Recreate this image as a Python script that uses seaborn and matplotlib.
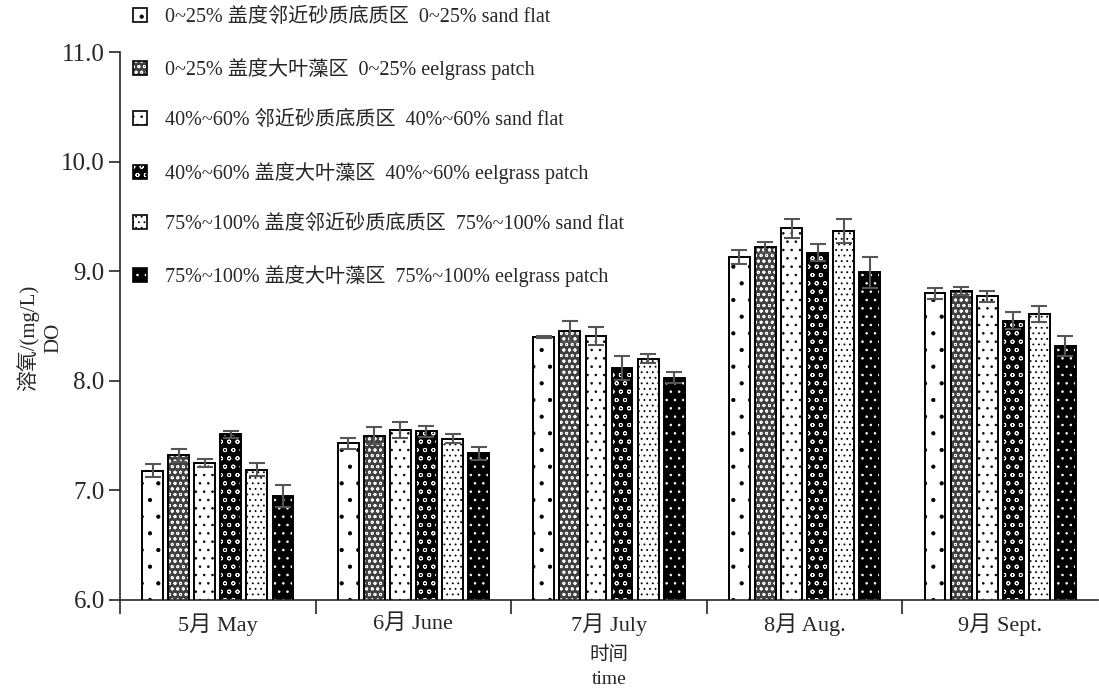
import matplotlib
matplotlib.use("Agg")
import matplotlib.pyplot as plt
from matplotlib.patches import Patch, Rectangle
from matplotlib.legend_handler import HandlerTuple
import numpy as np
import pandas as pd
import seaborn as sns

# Monthly dissolved oxygen (mg/L) by eelgrass cover zone: means and standard errors
months = ["5月 May", "6月 June", "7月 July", "8月 Aug.", "9月 Sept."]
groups = [
    "0~25% 盖度邻近砂质底质区  0~25% sand flat",
    "0~25% 盖度大叶藻区  0~25% eelgrass patch",
    "40%~60% 邻近砂质底质区  40%~60% sand flat",
    "40%~60% 盖度大叶藻区  40%~60% eelgrass patch",
    "75%~100% 盖度邻近砂质底质区  75%~100% sand flat",
    "75%~100% 盖度大叶藻区  75%~100% eelgrass patch",
]
sand_0_25 = [7.18, 7.43, 8.40, 9.13, 8.80]
grass_0_25 = [7.32, 7.50, 8.45, 9.22, 8.82]
sand_40_60 = [7.25, 7.55, 8.41, 9.39, 8.77]
grass_40_60 = [7.51, 7.54, 8.12, 9.17, 8.55]
sand_75_100 = [7.19, 7.47, 8.20, 9.37, 8.61]
grass_75_100 = [6.95, 7.34, 8.03, 8.99, 8.32]

err_sand_0_25 = [0.06, 0.05, 0.01, 0.06, 0.05]
err_grass_0_25 = [0.06, 0.08, 0.10, 0.05, 0.04]
err_sand_40_60 = [0.04, 0.07, 0.08, 0.09, 0.05]
err_grass_40_60 = [0.03, 0.05, 0.11, 0.08, 0.08]
err_sand_75_100 = [0.06, 0.04, 0.04, 0.11, 0.07]
err_grass_75_100 = [0.10, 0.06, 0.05, 0.14, 0.09]

means = [sand_0_25, grass_0_25, sand_40_60, grass_40_60, sand_75_100, grass_75_100]
errors = [err_sand_0_25, err_grass_0_25, err_sand_40_60, err_grass_40_60,
          err_sand_75_100, err_grass_75_100]

df = pd.DataFrame({
    "month": np.tile(months, len(groups)),
    "group": np.repeat(groups, len(months)),
    "DO": np.concatenate(means),
})

sns.set_style("ticks")
plt.rcParams["font.family"] = ["Liberation Serif", "Noto Sans CJK SC", "DejaVu Sans"]
plt.rcParams["hatch.linewidth"] = 0.6
plt.rcParams["axes.unicode_minus"] = False

# fill colour, hatch colour and hatch pattern for each zone
styles = [
    ("white", "black", "."),
    ("#404040", "white", "ooo"),
    ("white", "black", ".."),
    ("black", "white", "oo"),
    ("white", "black", "..."),
    ("black", "white", ".."),
]

fig = plt.figure(figsize=(10.99, 6.89), dpi=100)
ax = fig.add_axes([0.1092, 0.1292, 0.8899, 0.7953])

sns.barplot(data=df, x="month", y="DO", hue="group", order=months, hue_order=groups,
            palette=["white"] * len(groups), errorbar=None, width=0.8, gap=0.2,
            legend=False, ax=ax)

bar_containers = list(ax.containers)
for i, cont in enumerate(bar_containers):
    fc, hc, hatch = styles[i]
    xs = []
    for bar in cont:
        bar.set_facecolor(fc)
        bar.set_edgecolor(hc)
        bar.set_hatch(hatch)
        bar.set_linewidth(0)
        outline = Rectangle(bar.get_xy(), bar.get_width(), bar.get_height(),
                            fill=False, edgecolor="black", linewidth=1.4, zorder=3)
        ax.add_patch(outline)
        xs.append(bar.get_x() + bar.get_width() / 2)
    ax.errorbar(xs, means[i], yerr=errors[i], fmt="none", ecolor="#555555",
                elinewidth=1.5, capsize=6, capthick=1.5, zorder=4)

ax.set_ylim(6.0, 11.0)
ax.set_xlim(-0.5, 4.5)
ax.set_yticks(np.arange(6.0, 11.01, 1.0))
ax.set_yticklabels([f"{v:.1f}" for v in np.arange(6.0, 11.01, 1.0)], fontsize=18)
ax.set_xticks(range(len(months)))
ax.set_xticklabels(months, fontsize=16)
ax.set_xticks(np.arange(-0.5, 4.0, 1.0), minor=True)
ax.tick_params(axis="x", which="major", length=0, pad=10)
ax.tick_params(axis="x", which="minor", length=10, width=1.2, direction="out")
ax.tick_params(axis="y", length=8, width=1.2, direction="out", pad=3)

for side in ("top", "right"):
    ax.spines[side].set_visible(False)
ax.spines["left"].set_linewidth(1.2)
ax.spines["bottom"].set_linewidth(1.2)

ax.set_xlabel("时间\ntime", fontsize=14, linespacing=1.5, labelpad=7)
ax.set_ylabel("溶氧/(mg/L)\nDO", fontsize=15, linespacing=1.35)
ax.yaxis.set_label_coords(-0.058, 0.478)

handles = []
for fc, hc, hatch in styles:
    handles.append(Patch(facecolor=fc, edgecolor=hc, hatch=hatch, linewidth=0))
outline_handles = [(h, Patch(facecolor="none", edgecolor="black", linewidth=1.2)) for h in handles]
leg = ax.legend(outline_handles, groups, loc="upper left",
                bbox_to_anchor=(0.121, 0.989), bbox_transform=fig.transFigure,
                frameon=False, fontsize=14.5, handlelength=0.7, handleheight=0.7,
                labelspacing=1.55, handletextpad=0.9, borderpad=0, borderaxespad=0,
                handler_map={tuple: HandlerTuple(ndivide=1, pad=0)})

fig.savefig("out.png", dpi=100)
